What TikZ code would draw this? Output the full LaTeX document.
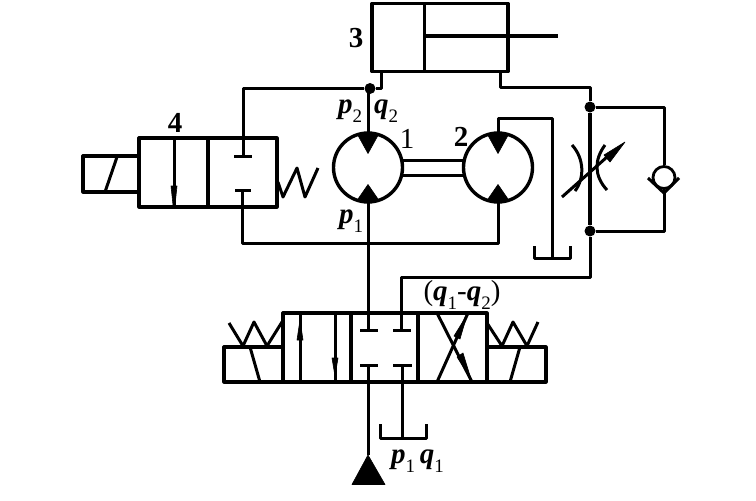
\documentclass[tikz,border=0pt]{standalone}
\usepackage{fontspec}
\setmainfont{Liberation Serif}
\usetikzlibrary{calc}
\newcommand{\vsym}[2]{\textit{\textbf{#1}}\raisebox{-.3em}{\fontsize{19}{19}\selectfont #2}}
\begin{document}
\begin{tikzpicture}[x=1pt,y=-1pt,line join=round,
  ln/.style={line width=3pt},
  thick ln/.style={line width=3.4pt},
  box/.style={draw,line width=3.2pt,rectangle,inner sep=0pt,outer sep=0pt},
  motor/.style={draw,circle,line width=3.4pt,minimum size=69pt,inner sep=0pt,outer sep=0pt},
  junction/.style={circle,fill=black,inner sep=0pt,minimum size=11pt},
  lab/.style={inner sep=0pt,font=\fontsize{29}{29}\selectfont},
  labb/.style={inner sep=0pt,font=\fontsize{29}{29}\selectfont\bfseries},
  tri/.style={fill=black,draw=black,line width=.6pt}]
\useasboundingbox (0,0) rectangle (756,501);
% cylinder 3
\node[box,minimum width=136pt,minimum height=68pt] (cyl) at (440,37.5) {};
\draw[ln] (424,3.5) -- (424,71.5);
\draw[thick ln] (424,36) -- (558,36);
\node[labb] (l3) at (356,38) {3};
% motors
\node[motor] (m1) at (368,167.5) {};
\node[motor] (m2) at (498,167.5) {};
\draw[ln] (m1.east |- 0,160) -- (m2.west |- 0,160);
\draw[ln] (m1.east |- 0,175) -- (m2.west |- 0,175);
\foreach \m in {m1,m2}{
  \fill[tri] ($(\m)+(-10.5,-33)$) to[bend left=8] ($(\m)+(10.5,-33)$) -- ($(\m)+(0,-14)$) -- cycle;
  \fill[tri] ($(\m)+(-11,33)$) to[bend right=8] ($(\m)+(11,33)$) -- ($(\m)+(0,17)$) -- cycle;
}
\node[lab] (l1) at (407,139) {1};
\node[labb] (l2) at (461,137) {2};
\node[lab] (lp2) at (350,111) {\vsym{p}{2}};
\node[lab] (lq2) at (386,111) {\vsym{q}{2}};
\node[lab] (lp1) at (351,221) {\vsym{p}{1}};
% valve 4
\node[box,minimum width=69pt,minimum height=69pt] (v4a) at (173.5,172.5) {};
\node[box,minimum width=69pt,minimum height=69pt] (v4b) at (242.5,172.5) {};
\node[box,minimum width=56pt,minimum height=36pt,anchor=east] (sol4) at (139,174) {};
\draw[ln] (105,192) -- (117,157);
\draw[ln] (174,138) -- (174,207);
\fill[tri] (171,186) -- (177,186) -- (175,205) -- (173,205) -- cycle;
\draw[ln] (234,156) -- (252,156);
\draw[ln] (235,190) -- (251,190);
\draw[ln] (278,182) -- (283,197) -- (297,168) -- (305,197) -- (318,168);
\node[labb] (l4) at (175,123) {4};
% junction and lines round motor 1
\node[junction] (j1) at (370,88.5) {};
\coordinate (c1) at (381,72);
\draw[ln] (c1) |- (j1);
\draw[ln] (j1) -- (243,88.5) -- (243,156);
\draw[ln] (368,88.5) -- (m1.north);
\draw[ln] (242,190) -- (242,243.5) -- (498,243.5) -- (m2.south);
\draw[ln] (m2.north) -- (498,118) -- (552,118) -- (552,258);
\draw[ln] (534,246) -- (534,258.5) -- (570,258.5) -- (570,246);
% right branch
\node[junction] (j2) at (590,107) {};
\node[junction] (j3) at (590,231) {};
\node[draw,circle,line width=2.8pt,minimum size=22pt,inner sep=0pt] (chk) at (664,177.5) {};
\draw[ln] (500,72) -- (500,87.5) -- (590,87.5) -- (j2);
\draw[thick ln] (j2) -- (j3);
\draw[ln] (j3) -- (590,277) -- (401,277) -- (401,330);
\draw[ln] (j2) -- (664,107) -- (chk.north);
\draw[ln] (j3) -- (664,231) -- (chk.south);
\draw[ln] (648,178) -- (664,193) -- (679,178);
% throttle
\draw[ln] (572,145) .. controls (584,158) and (585,178) .. (575,191);
\draw[ln] (605,145) .. controls (594,160) and (594,176) .. (607,190);
\draw[ln] (562,197) -- (607,157);
\fill[tri] (604,155) -- (625,142) -- (610,162) -- cycle;
% main valve
\node[box,minimum width=68pt,minimum height=69pt] (ca) at (317,347.5) {};
\node[box,minimum width=67pt,minimum height=69pt] (cb) at (384.5,347.5) {};
\node[box,minimum width=69pt,minimum height=69pt] (cc) at (452.5,347.5) {};
\node[box,minimum width=59pt,minimum height=35pt,anchor=south east] (sl) at (283,382) {};
\node[box,minimum width=59pt,minimum height=35pt,anchor=south west] (sr) at (487,382) {};
\draw[ln] (250,347) -- (260,382);
\draw[ln] (520,347) -- (510,382);
\draw[ln] (229,323) -- (243,346) -- (254,322) -- (267,346) -- (282,322);
\draw[ln] (487,323) -- (502,346) -- (513,322) -- (527,346) -- (538,322);
% left cell arrows
\draw[ln] (300,313) -- (300,382);
\fill[tri] (300,320) -- (303,340) -- (297,340) -- cycle;
\draw[ln] (335,313) -- (335,382);
\fill[tri] (335,376) -- (338,358) -- (332,358) -- cycle;
% centre cell
\draw[ln] (360,330) -- (378,330);
\draw[ln] (393,330) -- (411,330);
\draw[ln] (360,365) -- (378,365);
\draw[ln] (393,365) -- (412,365);
\draw[ln] (402,365) -- (402,438);
\draw[ln] (380,424) -- (380,438) -- (426,438) -- (426,424);
% right cell
\draw[ln] (437,313) -- (472,382);
\draw[ln] (437,382) -- (468,313);
\fill[tri] (467,315) -- (460,339) -- (454,336) -- cycle;
\fill[tri] (471,379) -- (457,357) -- (463,353) -- cycle;
% pump and pressure line
\node[inner sep=0pt,minimum size=0pt] (pt) at (368,455) {};
\fill[tri] (pt.center) -- (385,484.5) -- (352,484.5) -- cycle;
\draw[ln] (m1.south) -- (368,330);
\draw[ln] (368,365) -- (pt);
\node[lab] (lq) at (462,295) {(\vsym{q}{1}-\vsym{q}{2})};
\node[lab] (lpq) at (417.5,461) {\vsym{p}{1}\,\vsym{q}{1}};
\end{tikzpicture}
\end{document}
